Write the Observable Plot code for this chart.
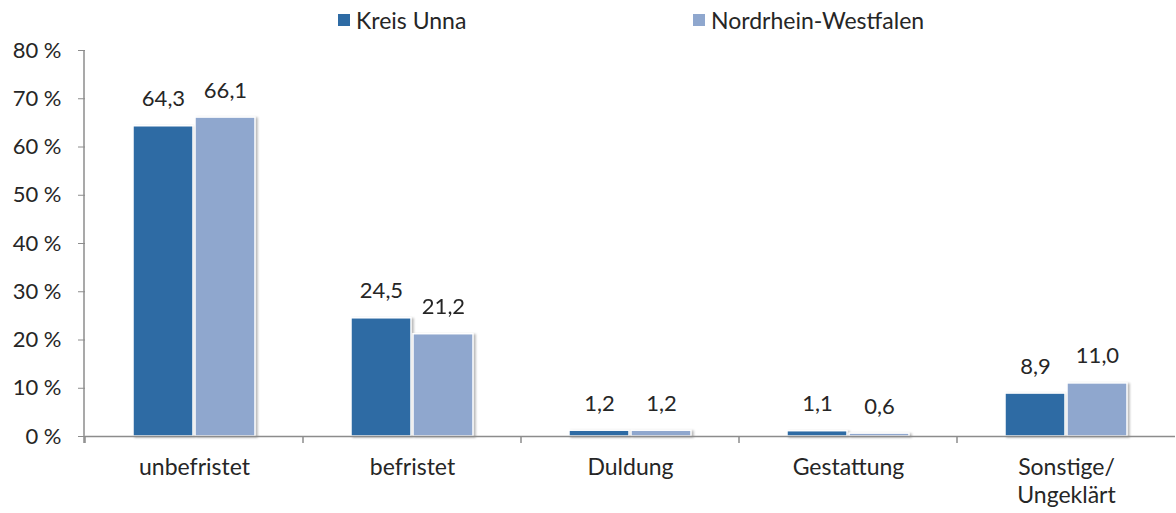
<!DOCTYPE html>
<html>
<head>
<meta charset="utf-8">
<script src="https://cdn.jsdelivr.net/npm/d3@7"></script>
<script src="https://cdn.jsdelivr.net/npm/@observablehq/plot@0.6"></script>
<style>
  html, body { margin: 0; padding: 0; background: #fff; }
  #wrap { position: relative; width: 1176px; font-family: Lato, "Open Sans", sans-serif; color: #262626; }
  #legend { position: relative; height: 40px; font-size: 23px; }
  .item { position: absolute; top: 6px; display: flex; align-items: center; white-space: nowrap; }
  .sw { width: 12px; height: 12px; margin-right: 6px; }
</style>
</head>
<body>
<div id="wrap">
  <div id="legend"></div>
  <div id="chart"></div>
</div>
<script>
const categories = ["unbefristet", "befristet", "Duldung", "Gestattung", "Sonstige/\nUngeklärt"];
const series = ["Kreis Unna", "Nordrhein-Westfalen"];
const kreisUnna = [64.3, 24.5, 1.2, 1.1, 8.9];
const nrw = [66.1, 21.2, 1.2, 0.6, 11.0];
const yTicks = [0, 10, 20, 30, 40, 50, 60, 70, 80];
const colors = ["#2e6ba4", "#8fa7ce"];

const values = [kreisUnna, nrw];
const data = categories.flatMap((c, i) => series.map((s, j) => ({cat: c, series: s, value: values[j][i]})));

// legend
const legend = d3.select("#legend");
const legendLeft = [338, 693];
series.forEach((s, j) => {
  const it = legend.append("div").attr("class", "item").style("left", legendLeft[j] + "px");
  it.append("div").attr("class", "sw").style("background", colors[j]);
  it.append("span").text(s);
});

const axisGray = "#8c8c8c";
const plot = Plot.plot({
  width: 1176,
  height: 473,
  marginLeft: 84,
  marginRight: 0,
  marginTop: 10,
  marginBottom: 77,
  style: {fontFamily: "Lato, 'Open Sans', sans-serif", fontSize: "22px", color: "#262626", background: "white", overflow: "visible"},
  fx: {domain: categories, padding: 0, label: null, axis: null},
  x: {domain: series, paddingInner: 0.03, paddingOuter: 0.75, axis: null},
  y: {domain: [0, 80], axis: null},
  color: {domain: series, range: colors},
  marks: [
    Plot.axisY({ticks: yTicks, tickFormat: d => `${d} %`, tickSize: 7, tickPadding: 17, stroke: axisGray, label: null, fill: "#262626"}),
    Plot.axisFx({anchor: "bottom", tickSize: 0, tickPadding: 19, label: null, lineHeight: 1.2, fontSize: 23, fill: "#262626"}),
    Plot.barY(data, {fx: "cat", x: "series", y: "value", fill: "series", stroke: "white", strokeWidth: 1.5}),
    Plot.ruleY([0], {stroke: axisGray, strokeWidth: 1.5}),
    Plot.text(data, {fx: "cat", x: "series", y: "value", text: d => d.value.toFixed(1).replace(".", ","), dy: -27, fill: "#262626"})
  ]
});
document.getElementById("chart").appendChild(plot);

// axis lines and category boundary ticks, computed from the scales
const svg = d3.select(plot);
const fx = plot.scale("fx");
const y = plot.scale("y");
const y0 = y.apply(0), yTop = y.apply(80);
const bw = (fx.range[1] - fx.range[0]) / categories.length;
const left = fx.range[0];
const g = svg.append("g").attr("stroke", axisGray).attr("stroke-width", 1.5);
g.append("line").attr("x1", left).attr("x2", left).attr("y1", yTop).attr("y2", y0 + 7);
categories.forEach((c, i) => {
  const xb = fx.apply(c) ?? (left + i * bw);
  g.append("line").attr("x1", xb).attr("x2", xb).attr("y1", y0).attr("y2", y0 + 7);
});
svg.selectAll("g[aria-label='bar']").style("filter", "drop-shadow(2px 1px 1px rgba(0,0,0,0.28))");
</script>
</body>
</html>
